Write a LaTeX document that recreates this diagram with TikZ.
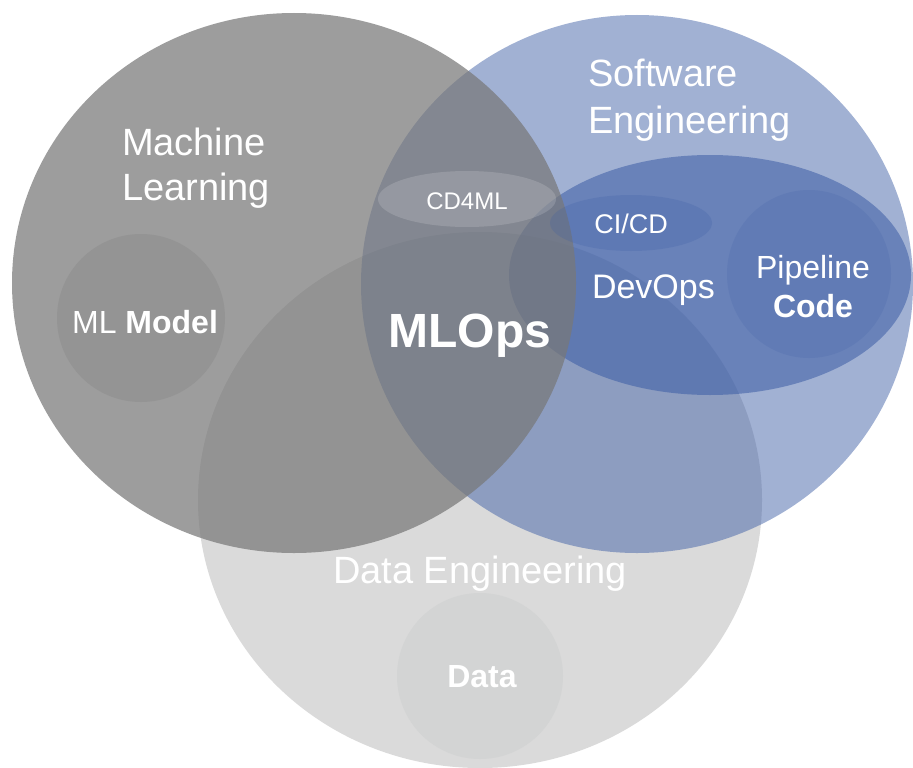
\documentclass[tikz,border=0pt]{standalone}
\usepackage{fontspec}
\setmainfont{Liberation Sans}

\definecolor{mlgray}{RGB}{120,120,120}
\definecolor{seblue}{RGB}{59,92,165}
\definecolor{defill}{RGB}{218,218,218}
\definecolor{datafill}{RGB}{211,212,212}
\definecolor{modelfill}{RGB}{148,148,148}

\tikzset{
  label/.style={inner sep=0pt, outer sep=0pt, text=white, font=\fontsize{#1}{#1}\selectfont},
  boldlabel/.style={label=#1, font=\fontsize{#1}{#1}\selectfont\bfseries},
}

\begin{document}
\begin{tikzpicture}[x=0.75pt, y=-0.75pt]
  \useasboundingbox (0,0) rectangle (913,767);
  \fill[white] (0,0) rectangle (913,767);

  % Data Engineering (bottom layer) and its inner Data circle
  \fill[defill] (480,500) ellipse [x radius=282, y radius=268];
  \fill[datafill] (480,676) circle [radius=83];

  % Software Engineering with DevOps and Pipeline Code
  \fill[seblue, fill opacity=0.48] (637,284) ellipse [x radius=276, y radius=269];
  \fill[seblue, fill opacity=0.55] (710,275) ellipse [x radius=201, y radius=120];
  \fill[seblue, fill opacity=0.17] (809,274) ellipse [x radius=82, y radius=84];

  % Machine Learning on top
  \fill[mlgray, fill opacity=0.72] (294,283) ellipse [x radius=282, y radius=270];
  \fill[modelfill] (141,318) circle [radius=84];

  % CD4ML and CI/CD ellipses
  \fill[white, fill opacity=0.15] (467,199) ellipse [x radius=89, y radius=28];
  \fill[seblue, fill opacity=0.22] (631,223) ellipse [x radius=81, y radius=28];

  % Labels
  \node[label=28.5pt, anchor=base west] (ml1) at (122,155) {Machine};
  \node[label=28.5pt, anchor=base west] (ml2) at (122,200) {Learning};
  \node[label=28.5pt, anchor=base west] (se1) at (588,87) {Software};
  \node[label=28.5pt, anchor=base west] (se2) at (588,133) {Engineering};
  \node[label=18pt, anchor=base] (cd4ml) at (467,209) {CD4ML};
  \node[label=20.25pt, anchor=base] (cicd) at (631,233) {CI/CD};
  \node[label=25.5pt, anchor=base west] (devops) at (592,298) {DevOps};
  \node[label=24pt, anchor=base] (pipe1) at (813,278) {Pipeline};
  \node[boldlabel=24pt, anchor=base] (pipe2) at (813,317) {Code};
  \node[boldlabel=36pt, anchor=base] (mlops) at (470,347) {MLOps};
  \node[label=24pt, anchor=base] (model) at (145,333) {ML \textbf{Model}};
  \node[label=28.5pt, anchor=base] (de) at (480,583) {Data Engineering};
  \node[boldlabel=24pt, anchor=base] (data) at (482,687) {Data};
\end{tikzpicture}
\end{document}
